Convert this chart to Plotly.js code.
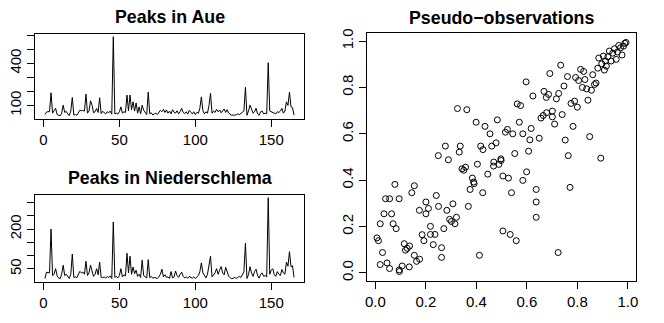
<!DOCTYPE html>
<html>
<head>
<meta charset="utf-8">
<script src="https://cdn.plot.ly/plotly-3.0.1.min.js"></script>
<style>
  html, body { margin: 0; padding: 0; background: #fff; }
  #plot { width: 664px; height: 323px; }
</style>
</head>
<body>
<div id="plot"></div>
<script>
// annual flood peaks (index 1..165)
const aue = [
  36, 52, 56, 55, 190, 45, 62, 80, 35, 30, 26, 45, 102, 50, 58, 40, 28, 60, 157, 32,
  35, 30, 50, 66, 62, 64, 60, 181, 45, 60, 133, 102, 48, 55, 78, 50, 155, 42, 58, 52,
  40, 55, 48, 60, 38, 590, 40, 45, 38, 55, 90, 45, 55, 50, 174, 62, 174, 70, 126, 60,
  118, 45, 90, 40, 102, 65, 48, 35, 195, 40, 48, 32, 40, 45, 35, 48, 66, 55, 72, 50,
  68, 45, 60, 40, 70, 52, 45, 62, 40, 55, 79, 50, 42, 55, 38, 65, 48, 40, 55, 35,
  50, 45, 80, 161, 62, 40, 55, 45, 100, 186, 45, 60, 50, 72, 55, 68, 48, 58, 75, 50,
  70, 45, 38, 30, 32, 30, 35, 40, 35, 45, 55, 60, 229, 30, 60, 102, 75, 45, 55, 80,
  40, 30, 55, 60, 40, 45, 40, 404, 60, 55, 50, 45, 40, 55, 50, 60, 79, 45, 60, 126,
  100, 195, 90, 84, 31
];
const niederschlema = [
  14, 38, 36, 35, 200, 25, 30, 51, 24, 16, 13, 30, 64, 25, 30, 22, 14, 30, 106, 18,
  20, 17, 30, 41, 35, 38, 30, 79, 25, 35, 64, 44, 22, 30, 51, 28, 76, 18, 17, 20,
  15, 22, 17, 24, 14, 227, 18, 22, 16, 25, 51, 20, 28, 24, 109, 35, 98, 30, 57, 32,
  45, 22, 30, 18, 83, 25, 22, 16, 85, 17, 22, 15, 18, 16, 14, 20, 30, 49, 20, 28,
  18, 20, 14, 40, 16, 20, 42, 25, 18, 30, 38, 22, 16, 20, 15, 22, 18, 15, 20, 14,
  20, 25, 40, 73, 35, 22, 16, 30, 60, 98, 20, 28, 35, 51, 30, 45, 59, 35, 28, 56,
  40, 22, 17, 13, 15, 18, 14, 20, 22, 18, 30, 40, 147, 14, 28, 58, 35, 22, 40, 49,
  25, 15, 30, 35, 22, 25, 20, 318, 30, 45, 51, 28, 22, 40, 30, 25, 48, 35, 30, 76,
  60, 115, 58, 62, 18
];
const years = aue.map((_, i) => i + 1);

// pseudo-observations (U for Aue, V for Niederschlema)
const pseudoU = [
  0.325, 0.362, 0.399, 0.434, 0.454, 0.483, 0.277, 0.336, 0.332, 0.249, 0.289, 0.417, 0.426, 0.461, 0.478, 0.497,
  0.515, 0.523, 0.544, 0.552, 0.562, 0.575, 0.570, 0.584, 0.597, 0.607, 0.612, 0.617, 0.624, 0.649, 0.656, 0.665,
  0.668, 0.677, 0.686, 0.678, 0.691, 0.701, 0.701, 0.710, 0.717, 0.726, 0.734, 0.740, 0.747, 0.752, 0.761, 0.764,
  0.775, 0.783, 0.789, 0.793, 0.800, 0.805, 0.813, 0.820, 0.825, 0.830, 0.837, 0.842, 0.849, 0.856, 0.861, 0.868,
  0.874, 0.881, 0.885, 0.893, 0.897, 0.903, 0.907, 0.911, 0.915, 0.921, 0.927, 0.934, 0.940, 0.947, 0.954, 0.959,
  0.964, 0.971, 0.977, 0.983, 0.988, 0.993,
  0.006, 0.012, 0.019, 0.019, 0.028, 0.034, 0.040, 0.046, 0.056, 0.056, 0.064, 0.070, 0.077, 0.082, 0.094, 0.094,
  0.095, 0.106, 0.114, 0.119, 0.126, 0.135, 0.134, 0.144, 0.154, 0.154, 0.163, 0.175, 0.174, 0.185, 0.192, 0.200,
  0.200, 0.210, 0.218, 0.218, 0.229, 0.236, 0.241, 0.250, 0.262, 0.262, 0.271, 0.283, 0.294, 0.301, 0.307, 0.315,
  0.321, 0.343, 0.350, 0.357, 0.368, 0.375, 0.384, 0.389, 0.391, 0.404, 0.412, 0.425, 0.445, 0.468, 0.469, 0.489,
  0.498, 0.505, 0.505, 0.527, 0.534, 0.539, 0.558, 0.584, 0.599, 0.637, 0.637, 0.637, 0.724, 0.771
];
const pseudoV = [
  0.709, 0.704, 0.650, 0.632, 0.600, 0.660, 0.547, 0.547, 0.521, 0.506, 0.488, 0.547, 0.532, 0.547, 0.561, 0.492,
  0.607, 0.619, 0.600, 0.515, 0.729, 0.722, 0.650, 0.600, 0.824, 0.525, 0.574, 0.623, 0.763, 0.581, 0.668, 0.679,
  0.783, 0.757, 0.770, 0.691, 0.860, 0.698, 0.673, 0.642, 0.751, 0.774, 0.896, 0.683, 0.806, 0.573, 0.847, 0.506,
  0.731, 0.632, 0.741, 0.843, 0.715, 0.830, 0.878, 0.800, 0.869, 0.834, 0.794, 0.745, 0.588, 0.788, 0.855, 0.813,
  0.819, 0.883, 0.927, 0.495, 0.902, 0.935, 0.875, 0.914, 0.892, 0.932, 0.957, 0.914, 0.948, 0.967, 0.921, 0.953,
  0.981, 0.971, 0.940, 0.978, 0.990, 0.994,
  0.151, 0.139, 0.212, 0.036, 0.088, 0.255, 0.320, 0.043, 0.320, 0.019, 0.255, 0.212, 0.382, 0.191, 0.320, 0.013,
  0.006, 0.030, 0.126, 0.098, 0.106, 0.116, 0.026, 0.346, 0.376, 0.076, 0.050, 0.059, 0.270, 0.165, 0.139, 0.255,
  0.306, 0.278, 0.201, 0.166, 0.122, 0.166, 0.334, 0.287, 0.067, 0.109, 0.191, 0.270, 0.231, 0.222, 0.298, 0.212,
  0.240, 0.449, 0.443, 0.456, 0.287, 0.360, 0.409, 0.392, 0.385, 0.469, 0.076, 0.346, 0.426, 0.461, 0.478, 0.468,
  0.485, 0.418, 0.181, 0.409, 0.166, 0.346, 0.139, 0.399, 0.436, 0.360, 0.306, 0.240, 0.088, 0.369
];

const timeTicks = [0, 50, 100, 150];
const aueTicks = [100, 200, 300, 400, 500, 600];
const aueTickText = ['100', '', '', '400', '', ''];
const niedTicks = [50, 100, 150, 200, 250, 300];
const niedTickText = ['50', '', '', '200', '', ''];
const unitTicks = [0, 0.2, 0.4, 0.6, 0.8, 1.0];

const titles = ['Peaks in Aue', 'Peaks in Niederschlema', 'Pseudo\u2212observations'];

// R-style axis range: data range padded by 4% on each side
const rRange = arr => {
  const lo = Math.min(...arr), hi = Math.max(...arr);
  const pad = 0.04 * (hi - lo);
  return [lo - pad, hi + pad];
};

const W = 664, H = 323;
const font = { family: 'Liberation Sans, Arial, sans-serif', size: 15, color: '#000' };

const axisBase = {
  showline: true,
  mirror: true,
  linecolor: '#000',
  linewidth: 1,
  ticks: 'outside',
  ticklen: 7,
  tickwidth: 1,
  tickcolor: '#000',
  showgrid: false,
  zeroline: false,
  tickfont: font
};

const traces = [
  {
    x: years, y: aue, xaxis: 'x', yaxis: 'y',
    type: 'scatter', mode: 'lines',
    line: { color: '#000', width: 1 }, hoverinfo: 'skip'
  },
  {
    x: years, y: niederschlema, xaxis: 'x2', yaxis: 'y2',
    type: 'scatter', mode: 'lines',
    line: { color: '#000', width: 1 }, hoverinfo: 'skip'
  },
  {
    x: pseudoU, y: pseudoV, xaxis: 'x3', yaxis: 'y3',
    type: 'scatter', mode: 'markers',
    marker: { symbol: 'circle-open', size: 6, color: '#000', line: { width: 1, color: '#000' } },
    hoverinfo: 'skip'
  }
];

const leftX = [35 / W, 304 / W];
const rightX = [367 / W, 636 / W];

const layout = {
  width: W,
  height: H,
  margin: { l: 0, r: 0, t: 0, b: 0 },
  paper_bgcolor: '#fff',
  plot_bgcolor: '#fff',
  showlegend: false,
  font: font,
  xaxis: Object.assign({}, axisBase, {
    domain: leftX, anchor: 'y', range: rRange(years), tickvals: timeTicks
  }),
  yaxis: Object.assign({}, axisBase, {
    domain: [1 - 119 / H, 1 - 33.5 / H], anchor: 'x', range: rRange(aue),
    tickvals: aueTicks, ticktext: aueTickText, tickangle: -90
  }),
  xaxis2: Object.assign({}, axisBase, {
    domain: leftX, anchor: 'y2', range: rRange(years), tickvals: timeTicks
  }),
  yaxis2: Object.assign({}, axisBase, {
    domain: [1 - 282 / H, 1 - 194.5 / H], anchor: 'x2', range: rRange(niederschlema),
    tickvals: niedTicks, ticktext: niedTickText, tickangle: -90
  }),
  xaxis3: Object.assign({}, axisBase, {
    domain: rightX, anchor: 'y3', range: rRange(pseudoU),
    tickvals: unitTicks, tickformat: '.1f'
  }),
  yaxis3: Object.assign({}, axisBase, {
    domain: [1 - 280.7 / H, 1 - 33.3 / H], anchor: 'x3', range: rRange(pseudoV),
    tickvals: unitTicks, tickformat: '.1f', tickangle: -90
  }),
  annotations: [
    { text: '<b>' + titles[0] + '</b>', x: (leftX[0] + leftX[1]) / 2, y: 1 - 17.2 / H },
    { text: '<b>' + titles[1] + '</b>', x: (leftX[0] + leftX[1]) / 2, y: 1 - 178.3 / H },
    { text: '<b>' + titles[2] + '</b>', x: (rightX[0] + rightX[1]) / 2, y: 1 - 18.3 / H }
  ].map(a => Object.assign(a, {
    xref: 'paper', yref: 'paper', xanchor: 'center', yanchor: 'middle',
    showarrow: false, font: { family: font.family, size: 17.8, color: '#000' }
  }))
};

Plotly.newPlot('plot', traces, layout, { staticPlot: true, displayModeBar: false });
</script>
</body>
</html>
